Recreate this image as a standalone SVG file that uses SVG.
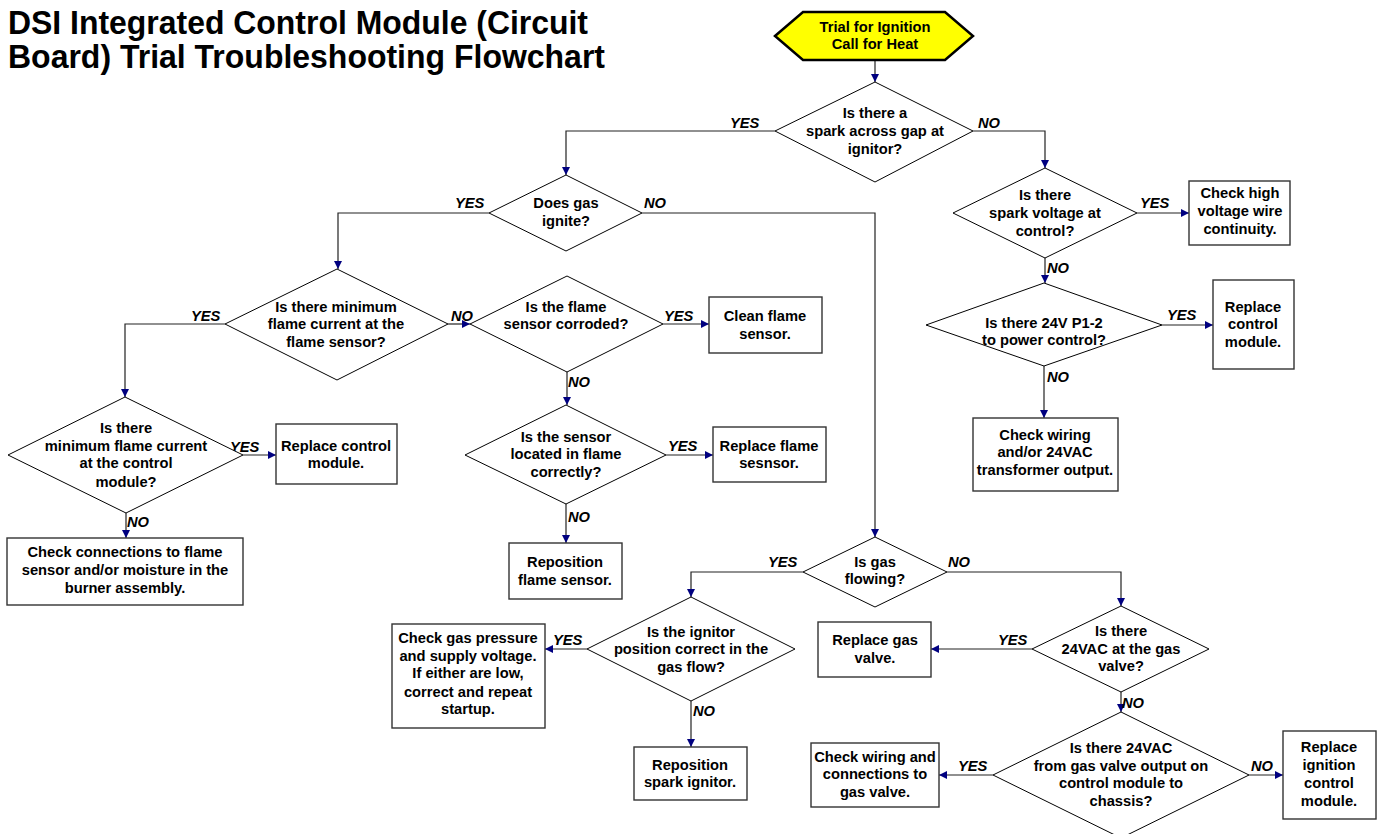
<svg xmlns="http://www.w3.org/2000/svg" width="1380" height="834" viewBox="0 0 1380 834">
<style>
.t{font-family:"Liberation Sans",Arial,sans-serif;font-weight:bold;font-size:14.7px;fill:#000;text-anchor:middle}
.title{font-family:"Liberation Sans",Arial,sans-serif;font-weight:bold;font-size:33px;fill:#000}
.lb{font-family:"Liberation Sans",Arial,sans-serif;font-weight:bold;font-style:italic;font-size:14.7px;fill:#000}
.d{fill:#fff;stroke:#000;stroke-width:1}
.b{fill:#fff;stroke:#333;stroke-width:1.4}
.c{fill:none;stroke:#222;stroke-width:1.2;marker-end:url(#ah)}
</style>
<defs>
<marker id="ah" markerUnits="userSpaceOnUse" markerWidth="9" markerHeight="9" refX="8" refY="4" orient="auto">
<path d="M0,0 L8,4 L0,8 z" fill="#000080"/>
</marker>
</defs>
<rect width="1380" height="834" fill="#fff"/>
<g id="title">
<text class="title" x="8" y="34" textLength="580" lengthAdjust="spacingAndGlyphs">DSI Integrated Control Module (Circuit</text>
<text class="title" x="8" y="68" textLength="597" lengthAdjust="spacingAndGlyphs">Board) Trial Troubleshooting Flowchart</text>
</g>
<g id="connectors">
<path class="c" d="M875,60 V82"/>
<path class="c" d="M775,131 H566 V175"/>
<path class="c" d="M973,131 H1045 V168"/>
<path class="c" d="M489,213 H338 V269"/>
<path class="c" d="M642,213 H875 V537"/>
<path class="c" d="M1137,213 H1189"/>
<path class="c" d="M1045,258 V283"/>
<path class="c" d="M225,324 H125 V397"/>
<path class="c" d="M448,324 H470"/>
<path class="c" d="M663,324 H709"/>
<path class="c" d="M567,372 V405"/>
<path class="c" d="M1162,325 H1213"/>
<path class="c" d="M1044,366 V418"/>
<path class="c" d="M243,455 H276"/>
<path class="c" d="M126,513 V538"/>
<path class="c" d="M666,455 H713"/>
<path class="c" d="M566,504 V543"/>
<path class="c" d="M803,572 H691 V597"/>
<path class="c" d="M947,572 H1121 V606"/>
<path class="c" d="M587,649 H545"/>
<path class="c" d="M1032,649 H931"/>
<path class="c" d="M691,701 V747"/>
<path class="c" d="M1121,692 V712"/>
<path class="c" d="M993,775 H939"/>
<path class="c" d="M1249,775 H1283"/>
</g>
<g id="labels">
<text class="lb" x="730" y="128">YES</text>
<text class="lb" x="978" y="128">NO</text>
<text class="lb" x="455" y="208">YES</text>
<text class="lb" x="644" y="208">NO</text>
<text class="lb" x="1140" y="208">YES</text>
<text class="lb" x="1047" y="273">NO</text>
<text class="lb" x="191" y="321">YES</text>
<text class="lb" x="451" y="321">NO</text>
<text class="lb" x="664" y="321">YES</text>
<text class="lb" x="568" y="387">NO</text>
<text class="lb" x="1167" y="320">YES</text>
<text class="lb" x="1047" y="382">NO</text>
<text class="lb" x="230" y="452">YES</text>
<text class="lb" x="127" y="527">NO</text>
<text class="lb" x="668" y="451">YES</text>
<text class="lb" x="568" y="522">NO</text>
<text class="lb" x="768" y="567">YES</text>
<text class="lb" x="948" y="567">NO</text>
<text class="lb" x="553" y="645">YES</text>
<text class="lb" x="693" y="716">NO</text>
<text class="lb" x="998" y="645">YES</text>
<text class="lb" x="1122" y="708">NO</text>
<text class="lb" x="958" y="771">YES</text>
<text class="lb" x="1251" y="771">NO</text>
</g>
<g id="start">
<polygon points="775,36 803,12 945,12 973,36 945,60 803,60" fill="#ffff00" stroke="#000" stroke-width="2.5"/>
<text class="t" x="875" y="32">Trial for Ignition</text>
<text class="t" x="875" y="49">Call for Heat</text>
</g>
<g id="q-spark">
<polygon class="d" points="875,82 973,131 875,182 775,131"/>
<text class="t" x="875" y="118">Is there a</text>
<text class="t" x="875" y="136">spark across gap at</text>
<text class="t" x="875" y="154">ignitor?</text>
</g>
<g id="q-ignite">
<polygon class="d" points="566,175 642,213 566,251 489,213"/>
<text class="t" x="566" y="208">Does gas</text>
<text class="t" x="566" y="226">ignite?</text>
</g>
<g id="q-sparkvolt">
<polygon class="d" points="1045,168 1137,213 1045,258 953,213"/>
<text class="t" x="1045" y="200">Is there</text>
<text class="t" x="1045" y="218">spark voltage at</text>
<text class="t" x="1045" y="236">control?</text>
</g>
<g id="b-hv">
<rect class="b" x="1189" y="181" width="101" height="64"/>
<text class="t" x="1240" y="198">Check high</text>
<text class="t" x="1240" y="216">voltage wire</text>
<text class="t" x="1240" y="234">continuity.</text>
</g>
<g id="q-24v">
<polygon class="d" points="1044,283 1162,325 1044,366 926,325"/>
<text class="t" x="1044" y="328">Is there 24V P1-2</text>
<text class="t" x="1044" y="345">to power control?</text>
</g>
<g id="b-replace1">
<rect class="b" x="1213" y="280" width="81" height="89"/>
<text class="t" x="1253" y="312">Replace</text>
<text class="t" x="1253" y="329">control</text>
<text class="t" x="1253" y="347">module.</text>
</g>
<g id="b-wiring24">
<rect class="b" x="973" y="418" width="145" height="73"/>
<text class="t" x="1045" y="440">Check wiring</text>
<text class="t" x="1045" y="457">and/or 24VAC</text>
<text class="t" x="1045" y="475">transformer output.</text>
</g>
<g id="q-flamecur">
<polygon class="d" points="337,269 448,324 337,380 225,324"/>
<text class="t" x="336" y="312">Is there minimum</text>
<text class="t" x="336" y="329">flame current at the</text>
<text class="t" x="336" y="347">flame sensor?</text>
</g>
<g id="q-corroded">
<polygon class="d" points="567,276 663,324 567,372 470,324"/>
<text class="t" x="566" y="312">Is the flame</text>
<text class="t" x="566" y="329">sensor corroded?</text>
</g>
<g id="b-clean">
<rect class="b" x="709" y="297" width="113" height="56"/>
<text class="t" x="765" y="321">Clean flame</text>
<text class="t" x="765" y="339">sensor.</text>
</g>
<g id="q-module">
<polygon class="d" points="125,397 243,455 126,513 8,455"/>
<text class="t" x="126" y="433">Is there</text>
<text class="t" x="126" y="451">minimum flame current</text>
<text class="t" x="126" y="468">at the control</text>
<text class="t" x="126" y="487">module?</text>
</g>
<g id="b-replace2">
<rect class="b" x="276" y="424" width="121" height="60"/>
<text class="t" x="336" y="451">Replace control</text>
<text class="t" x="336" y="468">module.</text>
</g>
<g id="b-connections">
<rect class="b" x="7" y="538" width="236" height="67"/>
<text class="t" x="125" y="557">Check connections to flame</text>
<text class="t" x="125" y="575">sensor and/or moisture in the</text>
<text class="t" x="125" y="593">burner assembly.</text>
</g>
<g id="q-located">
<polygon class="d" points="566,405 666,455 566,504 465,455"/>
<text class="t" x="566" y="442">Is the sensor</text>
<text class="t" x="566" y="459">located in flame</text>
<text class="t" x="566" y="477">correctly?</text>
</g>
<g id="b-replaceflame">
<rect class="b" x="713" y="427" width="113" height="55"/>
<text class="t" x="769" y="451">Replace flame</text>
<text class="t" x="769" y="468">sesnsor.</text>
</g>
<g id="b-reposflame">
<rect class="b" x="509" y="543" width="113" height="56"/>
<text class="t" x="565" y="567">Reposition</text>
<text class="t" x="565" y="585">flame sensor.</text>
</g>
<g id="q-flowing">
<polygon class="d" points="875,537 947,572 875,607 803,572"/>
<text class="t" x="875" y="567">Is gas</text>
<text class="t" x="875" y="584">flowing?</text>
</g>
<g id="q-ignitorpos">
<polygon class="d" points="691,597 795,649 691,701 587,649"/>
<text class="t" x="691" y="637">Is the ignitor</text>
<text class="t" x="691" y="654">position correct in the</text>
<text class="t" x="691" y="672">gas flow?</text>
</g>
<g id="b-gaspressure">
<rect class="b" x="392" y="624" width="153" height="104"/>
<text class="t" x="468" y="643">Check gas pressure</text>
<text class="t" x="468" y="661">and supply voltage.</text>
<text class="t" x="468" y="678">If either are low,</text>
<text class="t" x="468" y="697">correct and repeat</text>
<text class="t" x="468" y="714">startup.</text>
</g>
<g id="b-reposspark">
<rect class="b" x="634" y="747" width="113" height="53"/>
<text class="t" x="690" y="770">Reposition</text>
<text class="t" x="690" y="787">spark ignitor.</text>
</g>
<g id="q-24vacvalve">
<polygon class="d" points="1121,606 1209,649 1121,692 1032,649"/>
<text class="t" x="1121" y="636">Is there</text>
<text class="t" x="1121" y="654">24VAC at the gas</text>
<text class="t" x="1121" y="671">valve?</text>
</g>
<g id="b-replacevalve">
<rect class="b" x="818" y="622" width="113" height="55"/>
<text class="t" x="875" y="645">Replace gas</text>
<text class="t" x="875" y="663">valve.</text>
</g>
<g id="q-24vacoutput">
<polygon class="d" points="1121,712 1249,775 1121,838 993,775"/>
<text class="t" x="1121" y="753">Is there 24VAC</text>
<text class="t" x="1121" y="771">from gas valve output on</text>
<text class="t" x="1121" y="788">control module to</text>
<text class="t" x="1121" y="806">chassis?</text>
</g>
<g id="b-wiringvalve">
<rect class="b" x="811" y="743" width="128" height="64"/>
<text class="t" x="875" y="762">Check wiring and</text>
<text class="t" x="875" y="779">connections to</text>
<text class="t" x="875" y="797">gas valve.</text>
</g>
<g id="b-replaceignition">
<rect class="b" x="1283" y="731" width="93" height="88"/>
<text class="t" x="1329" y="752">Replace</text>
<text class="t" x="1329" y="770">ignition</text>
<text class="t" x="1329" y="788">control</text>
<text class="t" x="1329" y="806">module.</text>
</g>
</svg>
